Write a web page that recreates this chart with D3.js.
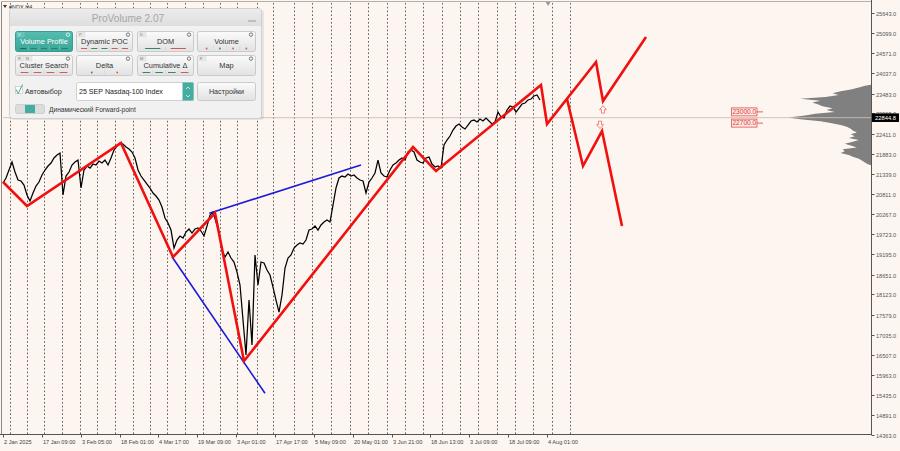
<!DOCTYPE html>
<html><head><meta charset="utf-8">
<script src="https://cdn.jsdelivr.net/npm/d3@7"></script>
<style>
html,body{margin:0;padding:0;background:#fdf6f0;}
svg{display:block;font-family:"Liberation Sans",Arial,sans-serif;}
</style>
</head><body>
<svg id="c" width="900" height="451"></svg>
<script>
// ---------- DATA ----------
const symbolLabel = "#NDX,H4";
// H4 close line, sampled at a fixed bar step (index units)
const closes = [
 21098,21232,21446,21660,21392,21179,21152,21045,20778,20617,
 20831,21018,21125,21312,21446,21553,21633,21767,21847,21900,
 20778,21285,21392,21580,21660,21713,20965,21446,21553,21499,
 21606,21580,21686,21633,21713,21580,21767,21980,22087,22168,
 22141,22061,22007,21927,21767,21446,21285,21179,21072,20965,
 20831,20751,20644,20457,20163,20029,19842,19361,19575,19682,
 19628,19789,19869,19762,19869,19896,19815,19682,19949,20243,
 20323,20056,19789,19307,19120,19254,19094,18987,18719,18372,
 17436,16501,17971,16768,19174,18372,18987,18960,18773,18639,
 18318,17971,17650,18105,18826,19094,19174,19361,19441,19495,
 19468,19575,19842,19869,19949,19842,19976,20056,20109,20056,
 20510,20965,21232,21285,21259,21339,21285,21312,21232,21179,
 21152,20831,21125,21232,21366,21713,21366,21285,21259,21446,
 21580,21633,21713,21767,21713,21927,21980,21927,21713,21660,
 21633,21767,21793,21606,21526,21553,21499,22114,22248,22355,
 22515,22622,22675,22595,22542,22649,22756,22782,22729,22809,
 22756,22836,22756,22675,22729,22996,22863,22836,23050,23157,
 23130,22996,23103,23210,23237,23317,23344,23424,23451,23317];
const dateLabels = ["2 Jan 2025","17 Jan 09:00","3 Feb 05:00","18 Feb 01:00","4 Mar 17:00",
 "19 Mar 09:00","3 Apr 01:00","17 Apr 17:00","5 May 09:00","20 May 01:00","3 Jun 21:00",
 "18 Jun 13:00","3 Jul 09:00","18 Jul 09:00","4 Aug 01:00"];
const labelStep = 12.953;           // bars between date labels
const xMax = 289.33;                // last visible bar index
const weekStarts = [2.3,8,13.7,19.7,25.7,31.3,37.3,43.3,49,54.7,60.7,66.7,72.3,78,84.7,90,
 97,103,109.3,115.7,121.7,128,134,140,146.3,152.3,158.3,164.7,170.7,176.7,183,189];
const priceTicks = [25643,25099,24571,24037,23483,22965,22411,21883,21339,20811,20267,
 19723,19195,18651,18123,17579,17035,16507,15963,15435,14891,14363];
const priceMin = 14363, priceMax = 25643;
const zigzagMain = [[0,21125],[8,20484],[39.33,22168],[56.67,19120],[70.67,20296],[80.33,16340],
 [136.67,22061],[144.33,21419],[179.33,23718],[181.33,22675],[197.67,24333],[200,23290],[214.33,25001]];
const zigzagAlt = [[188,23344],[193.33,21553],[199.67,22488],[206.33,19949]];
const trendLines = [[[56.33,19128],[87.33,15478]],[[68.77,20289],[119.33,21580]]];
const profileLevels = [23700,23650,23600,23550,23500,23450,23400,23350,23300,23250,23200,23150,
 23100,23050,23000,22950,22900,22850,22800,22750,22700,22650,22600,22550,22500,22450,22400,
 22350,22300,22250,22200,22150,22100,22050,22000,21950,21900,21850,21800,21750,21700,21650,21600];
const profileVolumes = [6,12,20,30,38,32,45,70,50,58,52,48,38,44,36,55,65,82,70,50,40,30,24,20,
 18,14,20,16,22,12,18,26,20,14,28,26,30,22,18,12,9,6,3];
const currentPrice = 22844.8;
const levelMarks = [23000.0, 22700.0];
const levelMarkBar = 243;
const arrowMarks = [{bar:200,price:23060,dir:"up"},{bar:199,price:22660,dir:"down"}];
const shiftMarkBar = 181.7;

// ---------- SCALES ----------
const svg = d3.select("#c");
const W = 900, H = 451;
const pL = 3, pR = 871, pT = 13, pB = 435, axisY = 434.5;
const x = d3.scaleLinear().domain([0, xMax]).range([pL, pR]);
const y = d3.scaleLinear().domain([priceMin, priceMax]).range([pB, pT]);

svg.append("rect").attr("width",W).attr("height",H).attr("fill","#fdf6f0");

// frame
svg.append("line").attr("x1",1.5).attr("x2",1.5).attr("y1",1).attr("y2",axisY).attr("stroke","#8a8a8a").attr("stroke-width",1);
svg.append("line").attr("x1",1).attr("x2",pR+0.5).attr("y1",1.5).attr("y2",1.5).attr("stroke","#b5b0aa").attr("stroke-width",1);

// weekly separators
svg.append("g").selectAll("line").data(weekStarts).join("line")
  .attr("x1",d=>Math.round(x(d))+0.5).attr("x2",d=>Math.round(x(d))+0.5)
  .attr("y1",3).attr("y2",axisY)
  .attr("stroke","#3a3a3a").attr("stroke-width",0.8).attr("stroke-dasharray","1.6,2.2");

// shift marker
svg.append("path").attr("d",`M${x(shiftMarkBar)-2.5},2 L${x(shiftMarkBar)+2.5},2 L${x(shiftMarkBar)},6 Z`).attr("fill","#9a9a9a");

// volume profile
const wScale = d3.scaleLinear().domain([0, d3.max(profileVolumes)]).range([0, 83]);
const profData = profileLevels.map((p,i)=>({p, v:profileVolumes[i]}));
svg.append("path").datum([{p:profileLevels[0]+25,v:0},...profData,{p:profileLevels[profileLevels.length-1]-25,v:0}])
  .attr("d", d3.area().y(d=>y(d.p)).x0(pR).x1(d=>pR - wScale(d.v)).curve(d3.curveLinear))
  .attr("fill","#808080");

// current price line
svg.append("line").attr("x1",pL).attr("x2",pR).attr("y1",y(currentPrice)).attr("y2",y(currentPrice))
  .attr("stroke","#cdbdb5").attr("stroke-width",0.9);

// price line
svg.append("path").datum(closes)
  .attr("d", d3.line().x((d,i)=>x(i)).y(d=>y(d)))
  .attr("fill","none").attr("stroke","#000").attr("stroke-width",1.25).attr("stroke-linejoin","miter");

// blue trend lines
svg.append("g").selectAll("path").data(trendLines).join("path")
  .attr("d", d3.line().x(d=>x(d[0])).y(d=>y(d[1])))
  .attr("fill","none").attr("stroke","#1a1ad8").attr("stroke-width",1.6);

// red zigzag
const zz = d3.line().x(d=>x(d[0])).y(d=>y(d[1]));
svg.append("path").datum(zigzagMain).attr("d",zz).attr("fill","none")
  .attr("stroke","#f01010").attr("stroke-width",2.6).attr("stroke-linejoin","miter");
svg.append("path").datum(zigzagAlt).attr("d",zz).attr("fill","none")
  .attr("stroke","#f01010").attr("stroke-width",2.6).attr("stroke-linejoin","miter");

// hollow arrows
const upArrow = "M0,-4 L3.5,0 L1.5,0 L1.5,3.5 L-1.5,3.5 L-1.5,0 L-3.5,0 Z";
svg.append("g").selectAll("path").data(arrowMarks).join("path")
  .attr("transform",d=>`translate(${x(d.bar)},${y(d.price)}) scale(1,${d.dir==="up"?1:-1})`)
  .attr("d",upArrow).attr("fill","#fdf6f0").attr("stroke","#f07a70").attr("stroke-width",0.9);

// level marks (red boxes)
const lm = svg.append("g").selectAll("g").data(levelMarks).join("g")
  .attr("transform",d=>`translate(${x(levelMarkBar)},${y(d)})`);
lm.append("rect").attr("x",-0.5).attr("y",-4).attr("width",25.5).attr("height",8)
  .attr("fill","#fde9e2").attr("stroke","#e05050").attr("stroke-width",0.8);
lm.append("line").attr("x1",25).attr("x2",31).attr("y1",0).attr("y2",0).attr("stroke","#e05050").attr("stroke-width",0.9);
lm.append("text").attr("x",12.3).attr("y",2.3).attr("text-anchor","middle").attr("font-size",6.6)
  .attr("fill","#d83a3a").text(d=>d3.format(".1f")(d));

// bottom axis
svg.append("line").attr("x1",0).attr("x2",pR+0.5).attr("y1",axisY).attr("y2",axisY).attr("stroke","#555").attr("stroke-width",1);
const dl = svg.append("g").selectAll("g").data(dateLabels).join("g")
  .attr("transform",(d,i)=>`translate(${Math.round(x(i*labelStep))+0.5},${axisY})`);
dl.append("line").attr("y1",0).attr("y2",3).attr("stroke","#555");
dl.append("text").attr("x",0.5).attr("y",9.5).attr("font-size",5.6).attr("fill","#444").text(d=>d);

// right axis
svg.append("line").attr("x1",pR+0.5).attr("x2",pR+0.5).attr("y1",0).attr("y2",axisY+0.5).attr("stroke","#555").attr("stroke-width",1);
const pt = svg.append("g").selectAll("g").data(priceTicks).join("g")
  .attr("transform",d=>`translate(${pR+0.5},${Math.round(y(d))+0.5})`);
pt.append("line").attr("x1",0).attr("x2",3).attr("stroke","#555");
pt.append("text").attr("x",4.5).attr("y",2).attr("font-size",5.6).attr("fill","#555").text(d=>d3.format(".1f")(d));

// current price label
const cp = svg.append("g").attr("transform",`translate(${pR+1},${y(currentPrice)})`);
cp.append("rect").attr("x",0).attr("y",-4.3).attr("width",27).attr("height",8.6).attr("fill","#000");
cp.append("text").attr("x",3).attr("y",2).attr("font-size",5.8).attr("fill","#fff").text(d3.format(".1f")(currentPrice));

// symbol label
svg.append("path").attr("d","M3,5 L7,5 L5,8 Z").attr("fill","#333");
svg.append("text").attr("x",9).attr("y",8.5).attr("font-size",5.5).attr("fill","#333").text(symbolLabel);

// ---------- ProVolume panel ----------
const defs = svg.append("defs");
const g1 = defs.append("linearGradient").attr("id","btn").attr("x1",0).attr("x2",0).attr("y1",0).attr("y2",1);
g1.append("stop").attr("offset","0%").attr("stop-color","#fbfbfb");
g1.append("stop").attr("offset","100%").attr("stop-color","#e2e2e2");
const g2 = defs.append("linearGradient").attr("id","act").attr("x1",0).attr("x2",0).attr("y1",0).attr("y2",1);
g2.append("stop").attr("offset","0%").attr("stop-color","#55bdb0");
g2.append("stop").attr("offset","100%").attr("stop-color","#3aa596");
const g3 = defs.append("linearGradient").attr("id","ttl").attr("x1",0).attr("x2",0).attr("y1",0).attr("y2",1);
g3.append("stop").attr("offset","0%").attr("stop-color","#ececec");
g3.append("stop").attr("offset","100%").attr("stop-color","#dedede");

const P = svg.append("g");
P.append("rect").attr("x",11).attr("y",10).attr("width",253).attr("height",110).attr("rx",3).attr("fill","#000").attr("opacity",0.08);
P.append("rect").attr("x",9.5).attr("y",8.5).attr("width",252).attr("height",110).attr("rx",3).attr("fill","#f1f1f1").attr("stroke","#cfcfcf");
P.append("path").attr("d","M10,26 L10,12 Q10,9 13,9 L258,9 Q261,9 261,12 L261,26 Z").attr("fill","url(#ttl)");
P.append("text").attr("x",128).attr("y",21.5).attr("text-anchor","middle").attr("font-size",10.2).attr("fill","#a6a6a6").text("ProVolume 2.07");
P.append("line").attr("x1",248).attr("x2",256).attr("y1",21).attr("y2",21).attr("stroke","#9a9a9a").attr("stroke-width",1);

const G = "#2f8a62", R = "#d05a5a";
const buttons = [
 {t:"Volume Profile",k:["V"],act:true,ind:"dash",c:[G,R,R,R,R]},
 {t:"Dynamic POC",k:["P"],ind:"dash",c:[R,G,G,R,R]},
 {t:"DOM",k:["D"],ind:"dash",c:[G,R]},
 {t:"Volume",k:[],ind:"dot",c:[R,G,R,R]},
 {t:"Cluster Search",k:["R","N"],ind:"dash",c:[R,R,R,R]},
 {t:"Delta",k:[],ind:"dot",c:[G,R]},
 {t:"Cumulative Δ",k:["M"],ind:"dash",c:[G,G,G,R]},
 {t:"Map",k:["F"],ind:"none",c:[]}
];
const colX = [15,76,137,197], colW = [58,57,57,59], rowY = [31,55], bh = 21;
buttons.forEach((b,i)=>{
  const bx = colX[i%4], by = rowY[Math.floor(i/4)], bw = colW[i%4];
  const g = P.append("g").attr("transform",`translate(${bx},${by})`);
  g.append("rect").attr("x",0.5).attr("y",0.5).attr("width",bw-1).attr("height",bh-1).attr("rx",2)
    .attr("fill",b.act?"url(#act)":"url(#btn)").attr("stroke",b.act?"#3a9c8f":"#cacaca");
  g.append("text").attr("x",bw/2).attr("y",13.2).attr("text-anchor","middle").attr("font-size",7.4)
    .attr("fill",b.act?"#fff":"#333").text(b.t);
  b.k.forEach((k,j)=>{
    g.append("rect").attr("x",2+j*8).attr("y",1.5).attr("width",7).attr("height",4.5).attr("fill",b.act?"#5cc3b6":"#e9e9e9").attr("stroke",b.act?"#7fd0c5":"#d5d5d5").attr("stroke-width",0.4);
    g.append("text").attr("x",3+j*8).attr("y",5.4).attr("font-size",4).attr("fill",b.act?"#e8fffb":"#777").text(k);
  });
  g.append("circle").attr("cx",bw-5).attr("cy",3.6).attr("r",1.7).attr("fill","none").attr("stroke",b.act?"#d7f3ef":"#777").attr("stroke-width",1);
  const n = b.c.length;
  if (n){
    const segW = (bw-6)/n;
    b.c.forEach((c,j)=>{
      const sx = 3 + j*segW;
      if (j>0) g.append("line").attr("x1",sx).attr("x2",sx).attr("y1",bh-6).attr("y2",bh-1.5).attr("stroke",b.act?"#7fd0c5":"#d0d0d0").attr("stroke-width",0.5);
      if (b.ind==="dash") g.append("line").attr("x1",sx+segW*0.2).attr("x2",sx+segW*0.8).attr("y1",bh-3.5).attr("y2",bh-3.5).attr("stroke",b.act?(c===G?"#1d6b5f":"#2a7f74"):c).attr("stroke-width",1);
      else g.append("circle").attr("cx",sx+segW/2).attr("cy",bh-3.5).attr("r",0.9).attr("fill",c);
    });
  }
});
P.append("rect").attr("x",15.5).attr("y",86.5).attr("width",7).attr("height",7).attr("fill","#fff").attr("stroke","#bbb").attr("stroke-width",0.6);
P.append("path").attr("d","M16,89.5 L18.3,93.5 L22.5,84.5").attr("fill","none").attr("stroke","#3aa596").attr("stroke-width",1);
P.append("text").attr("x",25).attr("y",93.5).attr("font-size",7.2).attr("fill","#333").text("Автовыбор");
P.append("rect").attr("x",76.5).attr("y",82.5).attr("width",117).attr("height",18).attr("rx",2).attr("fill","#fff").attr("stroke","#cfcfcf");
P.append("text").attr("x",79).attr("y",94.3).attr("font-size",7.1).attr("fill","#222").text("25 SEP Nasdaq-100 Index");
P.append("rect").attr("x",182.5).attr("y",82.5).attr("width",11).attr("height",18).attr("fill","#44ada0");
P.append("path").attr("d","M186,89 L188,87 L190,89 M186,95 L188,97 L190,95").attr("fill","none").attr("stroke","#fff").attr("stroke-width",0.7);
P.append("rect").attr("x",197.5).attr("y",82.5).attr("width",58).attr("height",18).attr("rx",2).attr("fill","url(#btn)").attr("stroke","#cacaca");
P.append("text").attr("x",226.5).attr("y",94.3).attr("text-anchor","middle").attr("font-size",7.2).attr("fill","#333").text("Настройки");
P.append("rect").attr("x",15.5).attr("y",104.5).attr("width",29).attr("height",9).attr("rx",2).attr("fill","#dcdcdc").attr("stroke","#cfcfcf");
P.append("rect").attr("x",25).attr("y",105).attr("width",10).attr("height",8).attr("fill","#44ada0");
P.append("text").attr("x",49).attr("y",111.5).attr("font-size",6.6).attr("fill","#333").text("Динамический Forward-point");
</script>
</body></html>
